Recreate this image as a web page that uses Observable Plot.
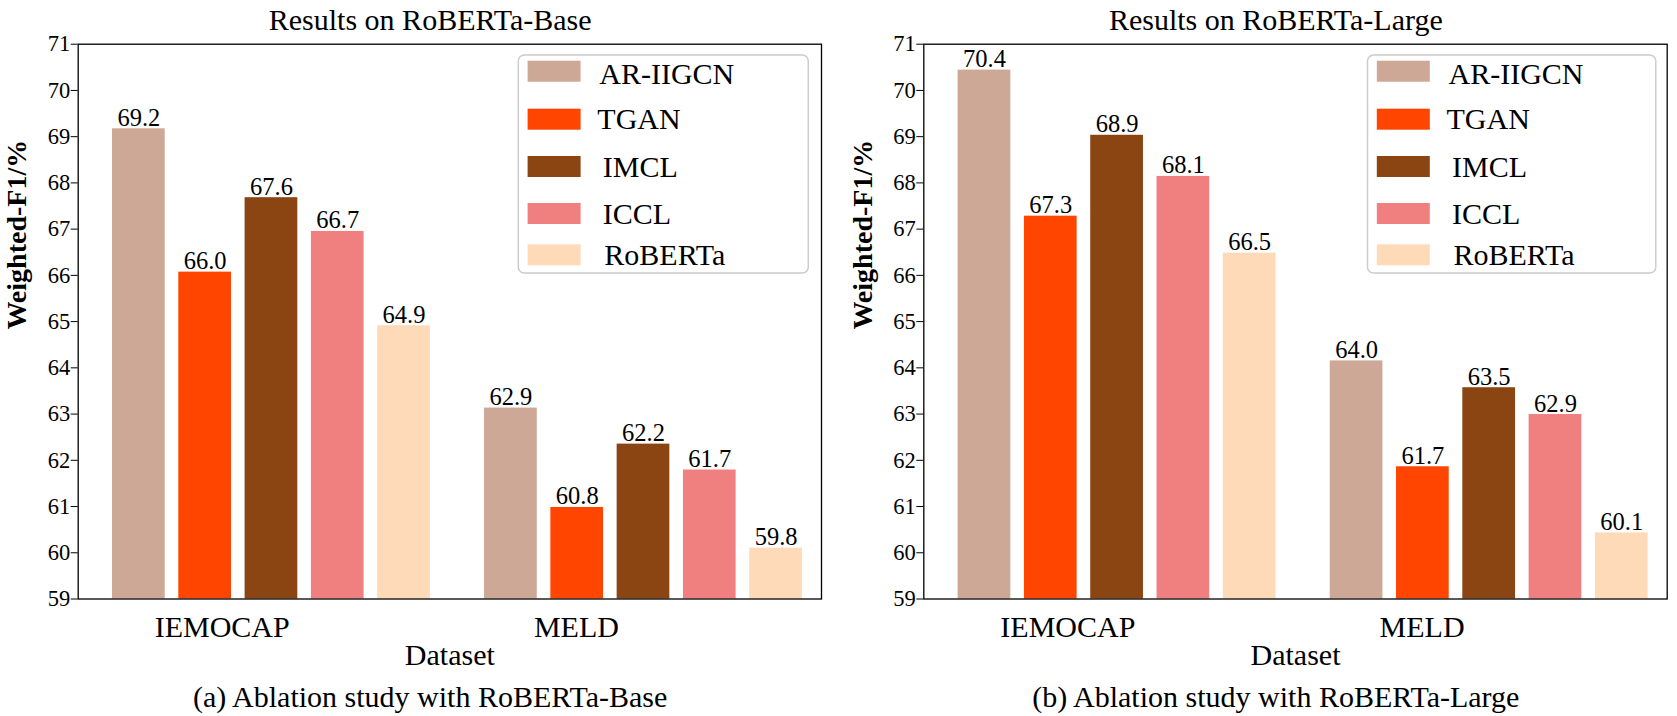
<!DOCTYPE html>
<html><head><meta charset="utf-8">
<script src="https://cdn.jsdelivr.net/npm/d3@7"></script>
<script src="https://cdn.jsdelivr.net/npm/@observablehq/plot@0.6"></script>
<style>
html,body{margin:0;padding:0;background:#fff;}
#wrap{position:relative;width:1677px;height:716px;overflow:hidden;background:#fff;}
.panel{position:absolute;top:0;}
#wrap svg, #wrap svg text{font-family:'Liberation Serif','Times New Roman',Times,serif !important;}
</style></head><body><div id="wrap"></div>
<script>
// ---- data ----
const datasets = ["IEMOCAP", "MELD"];
const methods = ["AR-IIGCN", "TGAN", "IMCL", "ICCL", "RoBERTa"];
const colors = ["#CEA896", "#FF4500", "#8B4513", "#F08080", "#FFDAB9"];
const yTicks = [59, 60, 61, 62, 63, 64, 65, 66, 67, 68, 69, 70, 71];

const baseIemocap = [69.17, 66.07, 67.68, 66.95, 64.91];
const baseMeld = [63.13, 60.98, 62.35, 61.79, 60.10];
const baseIemocapLabels = ["69.2", "66.0", "67.6", "66.7", "64.9"];
const baseMeldLabels = ["62.9", "60.8", "62.2", "61.7", "59.8"];

const largeIemocap = [70.44, 67.28, 69.03, 68.14, 66.48];
const largeMeld = [64.15, 61.86, 63.57, 62.99, 60.43];
const largeIemocapLabels = ["70.4", "67.3", "68.9", "68.1", "66.5"];
const largeMeldLabels = ["64.0", "61.7", "63.5", "62.9", "60.1"];

const titles = ["Results on RoBERTa-Base", "Results on RoBERTa-Large"];
const captions = ["(a) Ablation study with RoBERTa-Base", "(b) Ablation study with RoBERTa-Large"];
const yLabel = "Weighted-F1/%";
const xLabel = "Dataset";

// ---- layout (x in bar-step units) ----
const FONT = "'Liberation Serif', 'Times New Roman', Times, serif";
const groupStart = [0.915, 6.527];
const tickPos = [2.172, 7.515];
const xMax = 11.212;
const barW = 0.795;

function panel({left, width, marginLeft, marginRight, vals, labels, title, caption, legendLeft, legendWidth}) {
  const rows = datasets.flatMap((ds, g) => methods.map((m, i) => ({
    ds, method: m, value: vals[g][i], label: labels[g][i], pos: groupStart[g] + i
  })));
  const svg = Plot.plot({
    width, height: 716,
    marginLeft, marginRight, marginTop: 43.7, marginBottom: 117.5,
    style: {fontFamily: FONT, background: "white", color: "black", overflow: "visible"},
    x: {domain: [0, xMax], axis: null},
    y: {domain: [59, 71], axis: null},
    color: {domain: methods, range: colors},
    marks: [
      Plot.rect(rows, {x1: d => d.pos - barW / 2, x2: d => d.pos + barW / 2, y1: () => 59, y2: "value", fill: "method"}),
      Plot.text(rows, {x: "pos", y: "value", text: "label", lineAnchor: "bottom", dy: -3, fontSize: 24.5}),
      Plot.frame({stroke: "black", strokeWidth: 1.3}),
      Plot.axisY({ticks: yTicks, tickSize: 7, tickPadding: 1, fontSize: 22.5, label: null, tickFormat: d => String(d)}),
      Plot.text(datasets, {x: (d, i) => tickPos[i], frameAnchor: "bottom", lineAnchor: "bottom", dy: 37.5, fontSize: 30}),
      Plot.text([xLabel], {frameAnchor: "bottom", lineAnchor: "bottom", dy: 65.5, fontSize: 30}),
      Plot.text([caption], {frameAnchor: "bottom", lineAnchor: "bottom", dy: 108, dx: -19.7, fontSize: 30}),
      Plot.text([title], {frameAnchor: "top", lineAnchor: "bottom", dy: -14.7, dx: -19.7, fontSize: 30}),
      Plot.text([yLabel], {frameAnchor: "left", rotate: -90, dx: -61, dy: 8, fontSize: 28, fontWeight: "bold"})
    ]
  });
  // legend
  const swTop = [5.7, 53.7, 101, 148, 189.3];
  const txtX = [81, 79, 84.5, 84.5, 86];
  const txtBase = [29, 74, 121.7, 169, 210];
  const g = d3.select(svg).append("g").attr("transform", `translate(${legendLeft},55)`)
    .attr("text-anchor", "start");
  g.append("rect").attr("x", 0).attr("y", 0).attr("width", legendWidth).attr("height", 218)
    .attr("rx", 6).attr("fill", "white").attr("stroke", "#cccccc").attr("stroke-width", 1.5);
  methods.forEach((m, i) => {
    g.append("rect").attr("x", 9.3).attr("y", swTop[i]).attr("width", 53).attr("height", 21).attr("fill", colors[i]);
    g.append("text").attr("x", txtX[i]).attr("y", txtBase[i]).attr("font-size", 30)
      .attr("text-anchor", "start").attr("fill", "black").text(m);
  });
  const div = document.createElement("div");
  div.className = "panel";
  div.style.left = left + "px";
  div.appendChild(svg);
  document.getElementById("wrap").appendChild(div);
}

panel({left: 0, width: 838, marginLeft: 77.7, marginRight: 17,
  vals: [baseIemocap, baseMeld], labels: [baseIemocapLabels, baseMeldLabels],
  title: titles[0], caption: captions[0], legendLeft: 518.3, legendWidth: 290});
panel({left: 838, width: 839, marginLeft: 85.3, marginRight: 10.3,
  vals: [largeIemocap, largeMeld], labels: [largeIemocapLabels, largeMeldLabels],
  title: titles[1], caption: captions[1], legendLeft: 529.5, legendWidth: 288.3});
</script>
</body></html>
